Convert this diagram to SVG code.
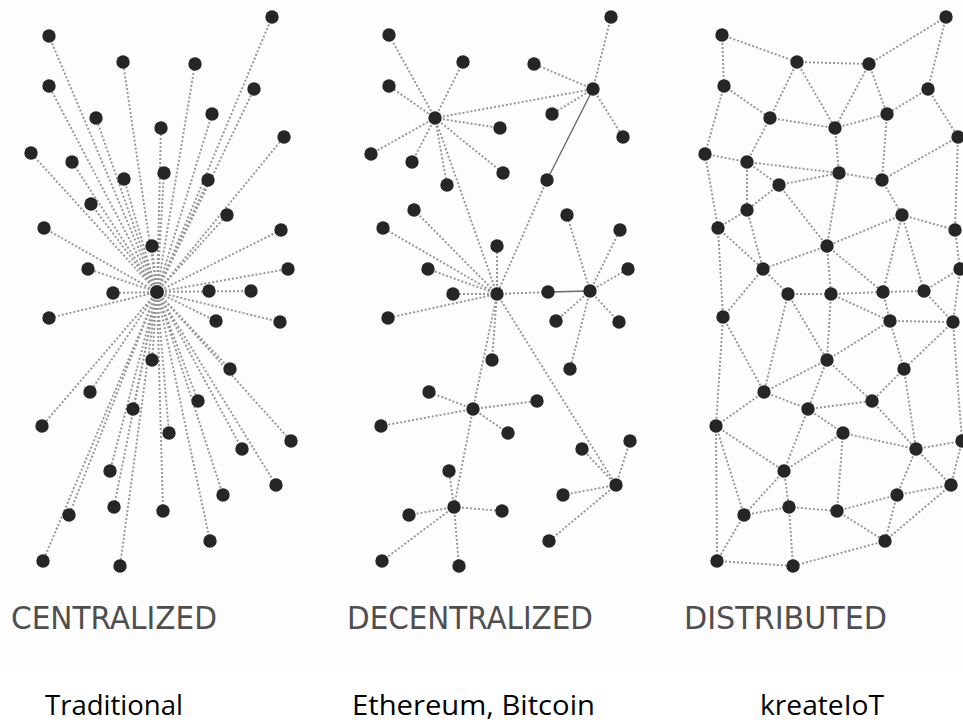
<svg xmlns="http://www.w3.org/2000/svg" width="963" height="723" viewBox="0 0 963 723">
<style>
.bg{fill:#ffffff}
.band{fill:#fdfdfd}
.e{stroke:#959595;stroke-width:1.9;stroke-dasharray:2 2;fill:none}
.s{stroke:#6a6a6a;stroke-width:1.4;fill:none}
.nodes circle{fill:#262626}
.h{font-family:"DejaVu Sans Condensed","DejaVu Sans","Liberation Sans",sans-serif;font-size:32px;fill:#4f4f4f}
.l{font-family:"Open Sans","Liberation Sans",sans-serif;font-size:28px;fill:#000}
</style>
<rect class="bg" x="0" y="0" width="963" height="723"/>
<rect class="band" x="0" y="0" width="963" height="665"/>
<g id="connectors">
<g id="central-links" class="e">
<path d="M157 292L49 36M157 292L272 17M157 292L123 62M157 292L195 64M157 292L49 86M157 292L254 89M157 292L96 118M157 292L212 114M157 292L161 128M157 292L284 137M157 292L31 153M157 292L72 162M157 292L124 179M157 292L164 173M157 292L208 180M157 292L91 204M157 292L227 215M157 292L44 228M157 292L281 230M157 292L152 246M157 292L88 269M157 292L288 269M157 292L113 293M157 292L251 291M157 292L49 318M157 292L216 321M157 292L280 322M157 292L152 360M157 292L230 369M157 292L90 392M157 292L133 409M157 292L198 401M157 292L42 426M157 292L169 433M157 292L242 449M157 292L291 441M157 292L110 471M157 292L223 495M157 292L276 485M157 292L114 507M157 292L163 511M157 292L69 515M157 292L210 541M157 292L43 561M157 292L120 566"/>
</g>
<g id="decentral-links" class="e">
<path d="M435 118L389 35M435 118L463 62M435 118L389 86M435 118L593 89M435 118L500 128M435 118L371 154M435 118L412 162M435 118L447 185M435 118L503 173M435 118L497 294"/>
<path d="M593 89L611 17M593 89L534 64M593 89L552 114M593 89L623 137"/>
<path d="M547 180L497 294"/>
<path d="M497 294L414 210M497 294L383 228M497 294L497 246M497 294L428 269M497 294L453 294M497 294L388 318M497 294L548 292M497 294L492 360M497 294L473 409M497 294L616 485"/>
<path d="M590 291L567 215M590 291L620 230M590 291L628 269M590 291L556 321M590 291L619 322M590 291L570 369"/>
<path d="M473 409L429 392M473 409L537 401M473 409L381 426M473 409L508 433M473 409L454 507"/>
<path d="M454 507L449 471M454 507L409 515M454 507L502 511M454 507L382 561M454 507L459 566"/>
<path d="M616 485L582 449M616 485L630 441M616 485L563 495M616 485L549 541"/>
</g>
<g id="decentral-solid" class="s">
<path d="M593 89L547 180M548 292L590 291"/>
</g>
<g id="distributed-links" class="e">
<path d="M722 35L797 62M722 35L724 86M797 62L869 64M869 64L946 17M946 17L928 89M797 62L770 118M797 62L835 128M869 64L835 128M869 64L887 114M724 86L770 118M724 86L705 154M928 89L887 114M928 89L958 137M770 118L835 128M770 118L747 162M887 114L835 128M887 114L882 180M835 128L839 173M958 137L882 180M958 137L955 230"/>
<path d="M705 154L747 162M705 154L718 228M747 162L839 173M747 162L747 210M747 162L779 185M779 185L839 173M839 173L882 180M839 173L827 246M779 185L827 246M779 185L747 210M747 210L718 228M747 210L763 269M718 228L763 269M882 180L902 215M902 215L827 246M902 215L955 230M955 230L960 269M902 215L883 292M902 215L924 291"/>
<path d="M827 246L763 269M827 246L831 294M827 246L883 292M763 269L788 294M718 228L723 317M763 269L723 317M788 294L831 294M831 294L883 292M883 292L924 291M924 291L960 269M831 294L890 321M883 292L890 321M924 291L953 322M890 321L953 322M960 269L953 322"/>
<path d="M788 294L764 392M788 294L827 360M831 294L827 360M890 321L827 360M890 321L904 369M953 322L904 369M953 322L962 441M962 441L951 485M723 317L764 392M723 317L716 426"/>
<path d="M827 360L764 392M827 360L808 409M827 360L872 401M904 369L872 401M904 369L916 449M764 392L808 409M764 392L716 426M808 409L872 401M808 409L843 433M808 409L784 471M872 401L916 449M843 433L916 449M843 433L784 471M843 433L837 511M916 449L962 441M916 449L951 485M916 449L897 495"/>
<path d="M716 426L784 471M716 426L744 515M716 426L717 561M784 471L744 515M784 471L789 507M744 515L789 507M789 507L837 511M744 515L717 561M789 507L793 566M717 561L793 566M837 511L897 495M837 511L885 541M897 495L951 485M897 495L885 541M885 541L951 485M885 541L793 566"/>
</g>
</g>
<g class="nodes">
<g id="c0"><circle cx="157" cy="292" r="7"/></g>
<g id="c1"><circle cx="49" cy="36" r="6.7"/></g>
<g id="c2"><circle cx="272" cy="17" r="6.7"/></g>
<g id="c3"><circle cx="123" cy="62" r="6.7"/></g>
<g id="c4"><circle cx="195" cy="64" r="6.7"/></g>
<g id="c5"><circle cx="49" cy="86" r="6.7"/></g>
<g id="c6"><circle cx="254" cy="89" r="6.7"/></g>
<g id="c7"><circle cx="96" cy="118" r="6.7"/></g>
<g id="c8"><circle cx="212" cy="114" r="6.7"/></g>
<g id="c9"><circle cx="161" cy="128" r="6.7"/></g>
<g id="c10"><circle cx="284" cy="137" r="6.7"/></g>
<g id="c11"><circle cx="31" cy="153" r="6.7"/></g>
<g id="c12"><circle cx="72" cy="162" r="6.7"/></g>
<g id="c13"><circle cx="124" cy="179" r="6.7"/></g>
<g id="c14"><circle cx="164" cy="173" r="6.7"/></g>
<g id="c15"><circle cx="208" cy="180" r="6.7"/></g>
<g id="c16"><circle cx="91" cy="204" r="6.7"/></g>
<g id="c17"><circle cx="227" cy="215" r="6.7"/></g>
<g id="c18"><circle cx="44" cy="228" r="6.7"/></g>
<g id="c19"><circle cx="281" cy="230" r="6.7"/></g>
<g id="c20"><circle cx="152" cy="246" r="6.7"/></g>
<g id="c21"><circle cx="88" cy="269" r="6.7"/></g>
<g id="c22"><circle cx="288" cy="269" r="6.7"/></g>
<g id="c23"><circle cx="113" cy="293" r="6.7"/></g>
<g id="c24"><circle cx="209" cy="291" r="6.7"/></g>
<g id="c25"><circle cx="251" cy="291" r="6.7"/></g>
<g id="c26"><circle cx="49" cy="318" r="6.7"/></g>
<g id="c27"><circle cx="216" cy="321" r="6.7"/></g>
<g id="c28"><circle cx="280" cy="322" r="6.7"/></g>
<g id="c29"><circle cx="152" cy="360" r="6.7"/></g>
<g id="c30"><circle cx="230" cy="369" r="6.7"/></g>
<g id="c31"><circle cx="90" cy="392" r="6.7"/></g>
<g id="c32"><circle cx="133" cy="409" r="6.7"/></g>
<g id="c33"><circle cx="198" cy="401" r="6.7"/></g>
<g id="c34"><circle cx="42" cy="426" r="6.7"/></g>
<g id="c35"><circle cx="169" cy="433" r="6.7"/></g>
<g id="c36"><circle cx="242" cy="449" r="6.7"/></g>
<g id="c37"><circle cx="291" cy="441" r="6.7"/></g>
<g id="c38"><circle cx="110" cy="471" r="6.7"/></g>
<g id="c39"><circle cx="223" cy="495" r="6.7"/></g>
<g id="c40"><circle cx="276" cy="485" r="6.7"/></g>
<g id="c41"><circle cx="114" cy="507" r="6.7"/></g>
<g id="c42"><circle cx="163" cy="511" r="6.7"/></g>
<g id="c43"><circle cx="69" cy="515" r="6.7"/></g>
<g id="c44"><circle cx="210" cy="541" r="6.7"/></g>
<g id="c45"><circle cx="43" cy="561" r="6.7"/></g>
<g id="c46"><circle cx="120" cy="566" r="6.7"/></g>

<g id="d1"><circle cx="389" cy="35" r="6.7"/></g>
<g id="d2"><circle cx="611" cy="17" r="6.7"/></g>
<g id="d3"><circle cx="463" cy="62" r="6.7"/></g>
<g id="d4"><circle cx="534" cy="64" r="6.7"/></g>
<g id="d5"><circle cx="389" cy="86" r="6.7"/></g>
<g id="dB"><circle cx="593" cy="89" r="6.7"/></g>
<g id="dA"><circle cx="435" cy="118" r="6.7"/></g>
<g id="d8"><circle cx="552" cy="114" r="6.7"/></g>
<g id="d9"><circle cx="500" cy="128" r="6.7"/></g>
<g id="d10"><circle cx="623" cy="137" r="6.7"/></g>
<g id="d11"><circle cx="371" cy="154" r="6.7"/></g>
<g id="d12"><circle cx="412" cy="162" r="6.7"/></g>
<g id="d13"><circle cx="447" cy="185" r="6.7"/></g>
<g id="d14"><circle cx="503" cy="173" r="6.7"/></g>
<g id="d15"><circle cx="547" cy="180" r="6.7"/></g>
<g id="d16"><circle cx="414" cy="210" r="6.7"/></g>
<g id="d17"><circle cx="567" cy="215" r="6.7"/></g>
<g id="d18"><circle cx="383" cy="228" r="6.7"/></g>
<g id="d19"><circle cx="620" cy="230" r="6.7"/></g>
<g id="d20"><circle cx="497" cy="246" r="6.7"/></g>
<g id="d21"><circle cx="428" cy="269" r="6.7"/></g>
<g id="d22"><circle cx="628" cy="269" r="6.7"/></g>
<g id="d23"><circle cx="453" cy="294" r="6.7"/></g>
<g id="dC"><circle cx="497" cy="294" r="6.7"/></g>
<g id="d24"><circle cx="548" cy="292" r="6.7"/></g>
<g id="dD"><circle cx="590" cy="291" r="6.7"/></g>
<g id="d26"><circle cx="388" cy="318" r="6.7"/></g>
<g id="d27"><circle cx="556" cy="321" r="6.7"/></g>
<g id="d28"><circle cx="619" cy="322" r="6.7"/></g>
<g id="d29"><circle cx="492" cy="360" r="6.7"/></g>
<g id="d30"><circle cx="570" cy="369" r="6.7"/></g>
<g id="d31"><circle cx="429" cy="392" r="6.7"/></g>
<g id="dE"><circle cx="473" cy="409" r="6.7"/></g>
<g id="d33"><circle cx="537" cy="401" r="6.7"/></g>
<g id="d34"><circle cx="381" cy="426" r="6.7"/></g>
<g id="d35"><circle cx="508" cy="433" r="6.7"/></g>
<g id="d36"><circle cx="582" cy="449" r="6.7"/></g>
<g id="d37"><circle cx="630" cy="441" r="6.7"/></g>
<g id="d38"><circle cx="449" cy="471" r="6.7"/></g>
<g id="dF"><circle cx="616" cy="485" r="6.7"/></g>
<g id="dG"><circle cx="454" cy="507" r="6.7"/></g>
<g id="d41"><circle cx="563" cy="495" r="6.7"/></g>
<g id="d42"><circle cx="409" cy="515" r="6.7"/></g>
<g id="d43"><circle cx="502" cy="511" r="6.7"/></g>
<g id="d44"><circle cx="549" cy="541" r="6.7"/></g>
<g id="d45"><circle cx="382" cy="561" r="6.7"/></g>
<g id="d46"><circle cx="459" cy="566" r="6.7"/></g>

<g id="ra"><circle cx="722" cy="35" r="6.7"/></g>
<g id="rb"><circle cx="946" cy="17" r="6.7"/></g>
<g id="rc"><circle cx="797" cy="62" r="6.7"/></g>
<g id="rd"><circle cx="869" cy="64" r="6.7"/></g>
<g id="re"><circle cx="724" cy="86" r="6.7"/></g>
<g id="rf"><circle cx="928" cy="89" r="6.7"/></g>
<g id="rg"><circle cx="770" cy="118" r="6.7"/></g>
<g id="rh"><circle cx="887" cy="114" r="6.7"/></g>
<g id="ri"><circle cx="835" cy="128" r="6.7"/></g>
<g id="rj"><circle cx="958" cy="137" r="6.7"/></g>
<g id="rk"><circle cx="705" cy="154" r="6.7"/></g>
<g id="rl"><circle cx="747" cy="162" r="6.7"/></g>
<g id="rm"><circle cx="839" cy="173" r="6.7"/></g>
<g id="rn"><circle cx="882" cy="180" r="6.7"/></g>
<g id="ro"><circle cx="779" cy="185" r="6.7"/></g>
<g id="rp"><circle cx="747" cy="210" r="6.7"/></g>
<g id="rq"><circle cx="902" cy="215" r="6.7"/></g>
<g id="rr"><circle cx="718" cy="228" r="6.7"/></g>
<g id="rs"><circle cx="955" cy="230" r="6.7"/></g>
<g id="rt"><circle cx="827" cy="246" r="6.7"/></g>
<g id="ru"><circle cx="763" cy="269" r="6.7"/></g>
<g id="rv"><circle cx="960" cy="269" r="6.7"/></g>
<g id="rw"><circle cx="788" cy="294" r="6.7"/></g>
<g id="rx"><circle cx="831" cy="294" r="6.7"/></g>
<g id="ry"><circle cx="883" cy="292" r="6.7"/></g>
<g id="rz"><circle cx="924" cy="291" r="6.7"/></g>
<g id="rA"><circle cx="723" cy="317" r="6.7"/></g>
<g id="rB"><circle cx="890" cy="321" r="6.7"/></g>
<g id="rC"><circle cx="953" cy="322" r="6.7"/></g>
<g id="rD"><circle cx="827" cy="360" r="6.7"/></g>
<g id="rE"><circle cx="904" cy="369" r="6.7"/></g>
<g id="rF"><circle cx="764" cy="392" r="6.7"/></g>
<g id="rG"><circle cx="808" cy="409" r="6.7"/></g>
<g id="rH"><circle cx="872" cy="401" r="6.7"/></g>
<g id="rI"><circle cx="716" cy="426" r="6.7"/></g>
<g id="rJ"><circle cx="843" cy="433" r="6.7"/></g>
<g id="rK"><circle cx="916" cy="449" r="6.7"/></g>
<g id="rL"><circle cx="962" cy="441" r="6.7"/></g>
<g id="rM"><circle cx="784" cy="471" r="6.7"/></g>
<g id="rN"><circle cx="897" cy="495" r="6.7"/></g>
<g id="rO"><circle cx="951" cy="485" r="6.7"/></g>
<g id="rP"><circle cx="789" cy="507" r="6.7"/></g>
<g id="rQ"><circle cx="744" cy="515" r="6.7"/></g>
<g id="rR"><circle cx="837" cy="511" r="6.7"/></g>
<g id="rS"><circle cx="885" cy="541" r="6.7"/></g>
<g id="rT"><circle cx="717" cy="561" r="6.7"/></g>
<g id="rU"><circle cx="793" cy="566" r="6.7"/></g>
</g>
<g id="titles">
<text class="h" x="11" y="629" textLength="206" lengthAdjust="spacingAndGlyphs">CENTRALIZED</text>
<text class="h" x="347" y="629" textLength="246" lengthAdjust="spacingAndGlyphs">DECENTRALIZED</text>
<text class="h" x="684" y="629" textLength="203" lengthAdjust="spacingAndGlyphs">DISTRIBUTED</text>
</g>
<g id="labels">
<text class="l" x="45" y="715" textLength="138" lengthAdjust="spacingAndGlyphs">Traditional</text>
<text class="l" x="352" y="715" textLength="243" lengthAdjust="spacingAndGlyphs">Ethereum, Bitcoin</text>
<text class="l" x="760" y="715" textLength="124" lengthAdjust="spacingAndGlyphs">kreateIoT</text>
</g>
</svg>
